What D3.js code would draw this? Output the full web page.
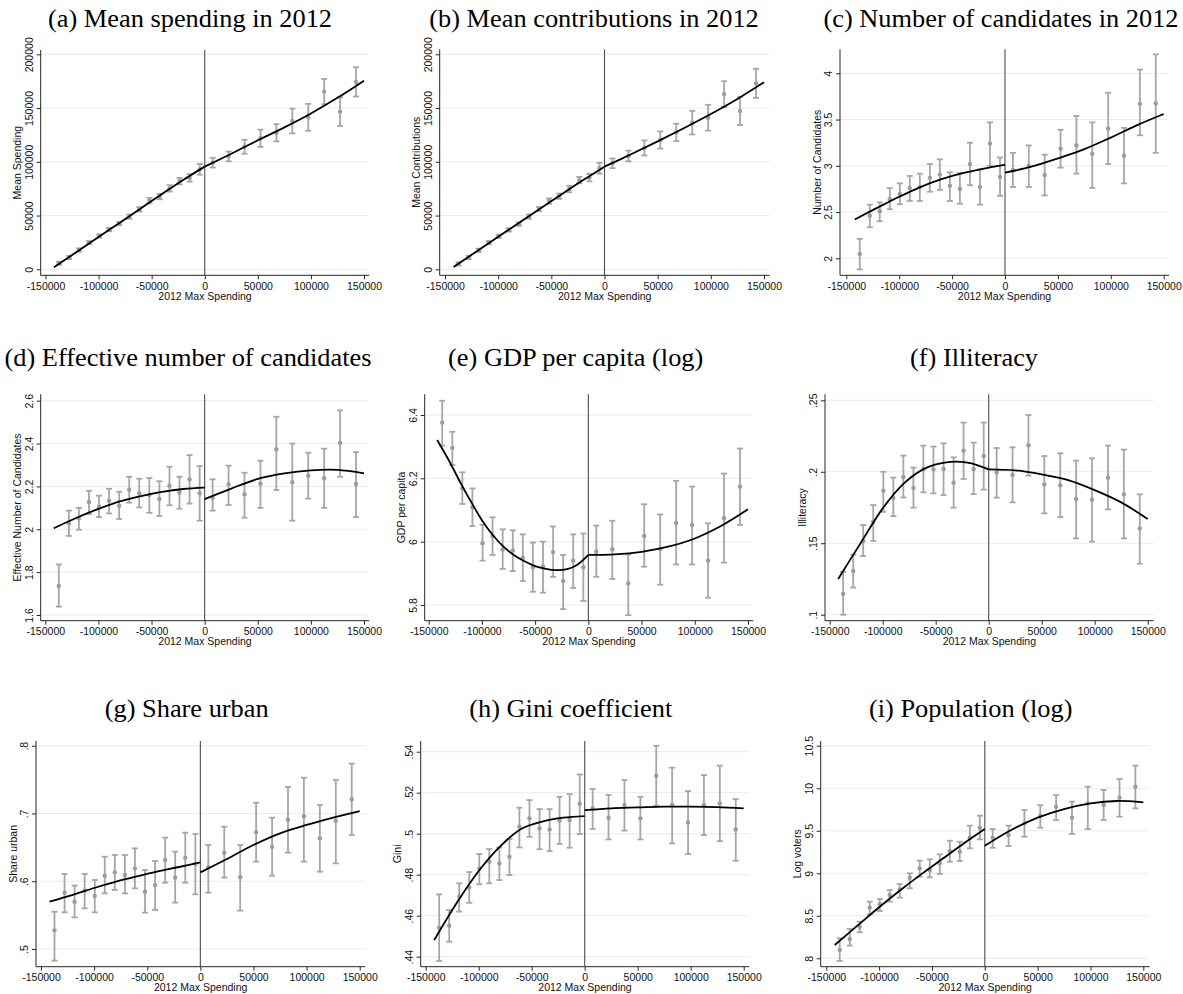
<!DOCTYPE html>
<html><head><meta charset="utf-8">
<script src="https://cdn.jsdelivr.net/npm/d3@7"></script>
<style>body{margin:0;background:#fff}svg{display:block}</style>
</head><body>
<svg id="chart" width="1183" height="994"></svg>
<script>
// ---------- DATA ----------
const binsLeft = [-137300,-127800,-118400,-108900,-99400,-90000,-80500,-71000,-61600,-52100,-42600,-33100,-23700,-14200,-4700];
const binsRight = [7500,22500,37500,52500,67500,82500,97500,112500,127500,142500];
const fitXL = [-142000,-120000,-100000,-80000,-60000,-40000,-20000,0];
const fitXL15 = [-142000,-130000,-120000,-110000,-100000,-90000,-80000,-70000,-60000,-50000,-40000,-30000,-20000,-10000,0];
const fitXR = [0,25000,50000,75000,100000,125000,150000];
const xTicks = [-150000,-100000,-50000,0,50000,100000,150000];
const xTickLabels = ["-150000","-100000","-50000","0","50000","100000","150000"];
const xTitle = "2012 Max Spending";

// (a) Mean spending
const aTicks = [0,50000,100000,150000,200000];
const aTickLabels = ["0","50000","100000","150000","200000"];
const aML = [5600,11000,18000,24800,31000,37000,42500,49000,55800,64000,67600,75300,82000,85000,93000];
const aLoL = [4100,9500,16500,23300,29500,35500,41000,47000,53800,61500,65100,72300,79000,81500,88000];
const aHiL = [7100,12500,19500,26300,32500,38500,44000,51000,57800,66500,70100,78300,85000,88500,98000];
const aMR = [99200,105000,114000,121900,127000,138000,141400,165300,146700,174300];
const aLoR = [94700,100500,107500,113900,119000,126500,128900,153500,133400,160700];
const aHiR = [103700,109500,120500,129900,135000,149500,153900,177100,160000,187900];
const aFitL = [2000,16600,30000,43400,56800,70200,83300,95500];
const aFitR = [95500,107500,120000,132000,145000,159500,175500];

// (b) Mean contributions
const bTicks = [0,50000,100000,150000,200000];
const bTickLabels = ["0","50000","100000","150000","200000"];
const bML = [5000,11000,17700,24800,30700,36600,42000,49000,56000,63500,68000,74700,83000,85300,94000];
const bLoL = [3500,9500,16200,23300,29200,35100,40500,47000,54000,61000,65500,71700,80000,81800,89000];
const bHiL = [6500,12500,19200,26300,32200,38100,43500,51000,58000,66000,70500,77700,86000,88800,99000];
const bMR = [98600,105400,112900,120300,127400,136400,141000,163000,147300,173000];
const bLoR = [94100,100400,105900,112300,119400,125400,129000,151000,134300,159500];
const bHiR = [103100,110400,119900,128300,135400,147400,153000,175000,160300,186500];
const bFitL = [2200,16800,30200,43500,56800,70000,83000,95500];
const bFitR = [95500,107000,119000,131500,144500,158500,174000];

// (c) Number of candidates
const cTicks = [2,2.5,3,3.5,4];
const cTickLabels = ["2","2.5","3","3.5","4"];
const cML = [2.047,2.46,2.51,2.64,2.695,2.76,2.77,2.87,2.905,2.785,2.75,3.02,2.77,3.24,2.88];
const cLoL = [1.88,2.335,2.40,2.53,2.585,2.62,2.62,2.72,2.74,2.62,2.59,2.79,2.58,3.0,2.675];
const cHiL = [2.21,2.58,2.605,2.76,2.81,2.89,2.915,3.02,3.07,2.93,2.92,3.25,2.96,3.47,3.09];
const cMR = [2.955,3.0,2.90,3.185,3.22,3.13,3.40,3.11,3.67,3.675];
const cLoR = [2.77,2.77,2.68,2.98,2.915,2.76,3.02,2.81,3.33,3.14];
const cHiR = [3.14,3.22,3.12,3.39,3.54,3.47,3.79,3.41,4.04,4.205];
const cFitL = [2.42,2.55,2.665,2.77,2.855,2.92,2.97,3.01];
const cFitR = [2.925,2.99,3.08,3.18,3.305,3.44,3.56];

// (d) Effective number of candidates
const dTicks = [1.6,1.8,2,2.2,2.4,2.6];
const dTickLabels = ["1.6","1.8","2","2.2","2.4","2.6"];
const dML = [1.735,2.028,2.051,2.127,2.105,2.133,2.11,2.185,2.168,2.16,2.141,2.203,2.171,2.233,2.168];
const dLoL = [1.639,1.969,1.998,2.071,2.057,2.074,2.048,2.124,2.102,2.077,2.062,2.112,2.096,2.12,2.04];
const dHiL = [1.836,2.087,2.10,2.18,2.157,2.189,2.175,2.245,2.236,2.239,2.224,2.292,2.245,2.346,2.295];
const dMR = [2.147,2.21,2.163,2.213,2.373,2.22,2.25,2.238,2.403,2.211];
const dLoR = [2.087,2.113,2.054,2.10,2.183,2.04,2.143,2.10,2.245,2.057];
const dHiR = [2.233,2.297,2.264,2.32,2.525,2.40,2.357,2.376,2.555,2.36];
const dFitL = [2.005,2.055,2.095,2.13,2.155,2.175,2.188,2.194];
const dFitR = [2.141,2.19,2.235,2.261,2.275,2.277,2.261];

// (e) GDP per capita (log)
const eTicks = [5.8,6,6.2,6.4];
const eTickLabels = ["5.8","6","6.2","6.4"];
const eML = [6.376,6.296,6.169,6.109,5.995,6.018,5.975,5.972,5.949,5.919,5.922,5.967,5.876,5.94,5.919];
const eLoL = [6.303,6.242,6.119,6.049,5.94,5.958,5.914,5.907,5.876,5.842,5.839,5.889,5.787,5.854,5.813];
const eHiL = [6.445,6.347,6.219,6.168,6.053,6.077,6.039,6.036,6.023,5.997,6.0,6.048,5.958,6.023,6.026];
const eMR = [5.968,5.976,5.868,6.018,5.977,6.059,6.053,5.94,6.074,6.174];
const eLoR = [5.889,5.882,5.768,5.921,5.864,5.928,5.928,5.823,5.934,6.053];
const eHiR = [6.051,6.066,5.96,6.118,6.086,6.192,6.174,6.058,6.215,6.294];
const eFitL = [6.321,6.25,6.185,6.125,6.068,6.022,5.985,5.958,5.938,5.923,5.914,5.91,5.913,5.928,5.958];
const eFitR = [5.958,5.96,5.968,5.984,6.01,6.05,6.102];

// (f) Illiteracy
const fTicks = [0.1,0.15,0.2,0.25];
const fTickLabels = [".1",".15",".2",".25"];
const fML = [.1147,.1306,.1516,.165,.1868,.1816,.1963,.1886,.2019,.2017,.2019,.1924,.2148,.2019,.211];
const fLoL = [.100,.119,.141,.1516,.172,.169,.182,.1749,.1856,.1849,.1837,.1749,.195,.1844,.1875];
const fHiL = [.130,.142,.1627,.1767,.200,.1959,.2113,.2029,.2183,.2176,.2199,.2101,.2344,.2204,.2344];
const fMR = [.1994,.1977,.2185,.1912,.1905,.1809,.1805,.1959,.1842,.1604];
const fLoR = [.1819,.1786,.1973,.1709,.1683,.1534,.1511,.1737,.1534,.1357];
const fHiR = [.2166,.2171,.2397,.2110,.2129,.2078,.2094,.2183,.2155,.1842];
const fFitL = [.125,.1511,.1744,.1919,.2024,.2066,.2064,.2017];
const fFitR = [.2017,.201,.1982,.1942,.1872,.1786,.1669];

// (g) Share urban
const gTicks = [0.5,0.6,0.7,0.8];
const gTickLabels = [".5",".6",".7",".8"];
const gML = [.5275,.5831,.5698,.5861,.5782,.6082,.6131,.6092,.619,.5846,.5944,.6313,.6053,.6348,.6254];
const gLoL = [.4828,.5541,.5467,.560,.5541,.5821,.5871,.5821,.5895,.5536,.5576,.5979,.5684,.5979,.5807];
const gHiL = [.555,.6107,.5935,.6107,.6018,.6362,.6387,.6387,.6485,.6166,.6299,.6643,.6436,.6717,.6697];
const gMR = [.6205,.6422,.6058,.6722,.651,.6908,.6958,.6633,.6894,.7209];
const gLoR = [.5831,.6053,.5566,.6289,.6082,.6422,.6289,.6141,.6264,.6682];
const gHiR = [.6535,.6805,.6535,.7159,.6938,.7391,.7528,.7125,.7494,.7735];
const gFitL = [.570,.580,.590,.599,.607,.6145,.621,.628];
const gFitR = [.6131,.6328,.6535,.6707,.683,.6938,.7036];

// (h) Gini coefficient
const hTicks = [0.44,0.46,0.48,0.5,0.52,0.54];
const hTickLabels = [".44",".46",".48",".5",".52",".54"];
const hML = [.4541,.4551,.4693,.4737,.4831,.4863,.4855,.4888,.5034,.5075,.5026,.5021,.5065,.5067,.5146];
const hLoL = [.4379,.4473,.4620,.4663,.4753,.4758,.4774,.4798,.4933,.4985,.4924,.4915,.495,.4932,.4998];
const hHiL = [.4704,.4628,.4758,.4813,.4901,.4925,.4933,.4974,.5127,.5164,.512,.512,.518,.5193,.5289];
const hMR = [.5124,.5078,.514,.5075,.5283,.514,.5055,.514,.5148,.5021];
const hLoR = [.5023,.4972,.5015,.4972,.5137,.4953,.4901,.4993,.4964,.4868];
const hHiR = [.5218,.5189,.5262,.518,.5429,.5322,.5208,.5286,.5332,.5169];
const hFitL = [.4481,.4668,.4818,.4937,.5023,.5059,.5078,.5086];
const hFitR = [.5115,.5124,.5128,.5132,.5132,.513,.5124];

// (i) Population (log)
const iTicks = [8,8.5,9,9.5,10,10.5];
const iTickLabels = ["8","8.5","9","9.5","10","10.5"];
const iML = [8.098,8.227,8.372,8.596,8.635,8.745,8.811,8.948,9.058,9.038,9.117,9.262,9.254,9.418,9.536];
const iLoL = [7.969,8.149,8.306,8.517,8.556,8.666,8.713,8.823,8.96,8.952,8.991,9.136,9.144,9.293,9.399];
const iHiL = [8.235,8.345,8.431,8.666,8.697,8.803,8.874,8.999,9.148,9.164,9.223,9.383,9.371,9.56,9.677];
const iMR = [9.418,9.45,9.587,9.677,9.783,9.654,9.822,9.803,9.889,10.018];
const iLoR = [9.30,9.32,9.43,9.536,9.626,9.462,9.52,9.626,9.665,9.763];
const iHiR = [9.52,9.56,9.744,9.80,9.92,9.842,10.018,9.979,10.108,10.265];
const iFitL = [8.157,8.39,8.6,8.8,8.99,9.17,9.35,9.52];
const iFitR = [9.324,9.509,9.654,9.755,9.822,9.85,9.834];

const panels = [
  {k:"a", title:"(a) Mean spending in 2012", yTitle:"Mean Spending", ticks:aTicks, labels:aTickLabels, mL:aML, loL:aLoL, hiL:aHiL, mR:aMR, loR:aLoR, hiR:aHiR, fxL:fitXL, fL:aFitL, fR:aFitR},
  {k:"b", title:"(b) Mean contributions in 2012", yTitle:"Mean Contributions", ticks:bTicks, labels:bTickLabels, mL:bML, loL:bLoL, hiL:bHiL, mR:bMR, loR:bLoR, hiR:bHiR, fxL:fitXL, fL:bFitL, fR:bFitR},
  {k:"c", title:"(c) Number of candidates in 2012", yTitle:"Number of Candidates", ticks:cTicks, labels:cTickLabels, mL:cML, loL:cLoL, hiL:cHiL, mR:cMR, loR:cLoR, hiR:cHiR, fxL:fitXL, fL:cFitL, fR:cFitR},
  {k:"d", title:"(d) Effective number of candidates", yTitle:"Effective Number of Candidates", ticks:dTicks, labels:dTickLabels, mL:dML, loL:dLoL, hiL:dHiL, mR:dMR, loR:dLoR, hiR:dHiR, fxL:fitXL, fL:dFitL, fR:dFitR},
  {k:"e", title:"(e) GDP per capita (log)", yTitle:"GDP per capita", ticks:eTicks, labels:eTickLabels, mL:eML, loL:eLoL, hiL:eHiL, mR:eMR, loR:eLoR, hiR:eHiR, fxL:fitXL15, fL:eFitL, fR:eFitR},
  {k:"f", title:"(f) Illiteracy", yTitle:"Illiteracy", ticks:fTicks, labels:fTickLabels, mL:fML, loL:fLoL, hiL:fHiL, mR:fMR, loR:fLoR, hiR:fHiR, fxL:fitXL, fL:fFitL, fR:fFitR},
  {k:"g", title:"(g) Share urban", yTitle:"Share urban", ticks:gTicks, labels:gTickLabels, mL:gML, loL:gLoL, hiL:gHiL, mR:gMR, loR:gLoR, hiR:gHiR, fxL:fitXL, fL:gFitL, fR:gFitR},
  {k:"h", title:"(h) Gini coefficient", yTitle:"Gini", ticks:hTicks, labels:hTickLabels, mL:hML, loL:hLoL, hiL:hHiL, mR:hMR, loR:hLoR, hiR:hHiR, fxL:fitXL, fL:hFitL, fR:hFitR},
  {k:"i", title:"(i) Population (log)", yTitle:"Log voters", ticks:iTicks, labels:iTickLabels, mL:iML, loL:iLoL, hiL:iHiL, mR:iMR, loR:iLoR, hiR:iHiR, fxL:fitXL, fL:iFitL, fR:iFitR}
];

// ---------- LAYOUT (pixels) ----------
const layout = {
  a:{ax:40.7, x0:45.5, x1:364.0, right:369.3, top:50,    bottom:275.3, yb:269.3, yt:54.3,  tx:190,   ty:27},
  b:{ax:439.7,x0:445.0,x1:764.0, right:769.7, top:49.3,  bottom:275.3, yb:269.3, yt:54.3,  tx:594,   ty:27},
  c:{ax:840.0,x0:846.3,x1:1163.7,right:1169.0,top:49.3,  bottom:275.3, yb:258.3, yt:73.3,  tx:1001,  ty:27},
  d:{ax:40.7, x0:45.3, x1:364.0, right:369.3, top:394.3, bottom:620.7, yb:615.0, yt:400.7, tx:188,   ty:366},
  e:{ax:424.7,x0:428.7,x1:748.0, right:753.3, top:394.3, bottom:620.7, yb:605.0, yt:415.0, tx:575.7, ty:366},
  f:{ax:825.0,x0:829.7,x1:1147.7,right:1153.7,top:394.3, bottom:620.7, yb:614.7, yt:400.3, tx:974,   ty:366},
  g:{ax:36.0, x0:41.0, x1:359.7, right:365.3, top:741,   bottom:966.7, yb:949.0, yt:745.7, tx:186.7, ty:717},
  h:{ax:420.7,x0:425.7,x1:743.7, right:749.3, top:741,   bottom:966.7, yb:956.7, yt:751.7, tx:570.7, ty:717},
  i:{ax:820.7,x0:826.3,x1:1143.3,right:1149.7,top:741,   bottom:966.7, yb:958.3, yt:745.7, tx:970.7, ty:717}
};

const style = {
  grid:"#e4edef", axis:"#262626", zero:"#4d4d4d", pt:"#9c9c9c", bar:"#a6a6a6", fit:"#000",
  sans:"'Liberation Sans', Arial, sans-serif", serif:"'Liberation Serif', 'Times New Roman', serif",
  tickFont:10.5, titleFont:25
};

const svg = d3.select("#chart");

panels.forEach(p => {
  const L = layout[p.k];
  const g = svg.append("g");
  const x = d3.scaleLinear().domain([xTicks[0], xTicks[xTicks.length-1]]).range([L.x0, L.x1]);
  const y = d3.scaleLinear().domain([p.ticks[0], p.ticks[p.ticks.length-1]]).range([L.yb, L.yt]);

  g.append("text").attr("transform", `translate(${L.tx},${L.ty}) scale(1.055,1)`)
    .attr("text-anchor","middle").attr("font-family", style.serif)
    .attr("font-size", style.titleFont).attr("fill","#000").text(p.title);

  g.selectAll("line.grid").data(p.ticks).join("line").attr("class","grid")
    .attr("x1", L.ax).attr("x2", L.right).attr("y1", d=>y(d)).attr("y2", d=>y(d))
    .attr("stroke", style.grid).attr("stroke-width", 1);

  const xa = g.append("g").attr("transform", `translate(0,${L.bottom})`)
    .call(d3.axisBottom(x).tickValues(xTicks).tickFormat((d,i)=>xTickLabels[i]).tickSize(4).tickSizeOuter(0));
  xa.select(".domain").remove();
  xa.selectAll("line").attr("stroke", style.axis);
  xa.selectAll("text").attr("font-family", style.sans).attr("font-size", style.tickFont).attr("fill","#111");
  g.append("line").attr("x1", L.ax).attr("x2", L.right).attr("y1", L.bottom).attr("y2", L.bottom)
    .attr("stroke", style.axis).attr("stroke-width", 1);
  g.append("text").attr("x", (L.ax + L.right)/2).attr("y", L.bottom + 24.5)
    .attr("text-anchor","middle").attr("font-family", style.sans).attr("font-size", style.tickFont)
    .attr("fill","#111").text(xTitle);

  const ya = g.append("g").attr("transform", `translate(${L.ax},0)`)
    .call(d3.axisLeft(y).tickValues(p.ticks).tickFormat((d,i)=>p.labels[i]).tickSize(4).tickSizeOuter(0));
  ya.select(".domain").remove();
  ya.selectAll("line").attr("stroke", style.axis);
  ya.selectAll("text").attr("x", null).attr("dy", null)
    .attr("transform", "translate(-8,0) rotate(-90)").attr("text-anchor","middle")
    .attr("font-family", style.sans).attr("font-size", style.tickFont).attr("fill","#111");
  g.append("line").attr("x1", L.ax).attr("x2", L.ax).attr("y1", L.top).attr("y2", L.bottom)
    .attr("stroke", style.axis).attr("stroke-width", 1);
  g.append("text").attr("transform", `translate(${L.ax-19.5},${(L.top+L.bottom)/2}) rotate(-90)`)
    .attr("text-anchor","middle").attr("font-family", style.sans).attr("font-size", style.tickFont)
    .attr("fill","#111").text(p.yTitle);

  g.append("line").attr("x1", x(0)).attr("x2", x(0)).attr("y1", L.top).attr("y2", L.bottom)
    .attr("stroke", style.zero).attr("stroke-width", 1.1);

  const pts = binsLeft.map((b,i)=>({x:b, m:p.mL[i], lo:p.loL[i], hi:p.hiL[i]}))
    .concat(binsRight.map((b,i)=>({x:b, m:p.mR[i], lo:p.loR[i], hi:p.hiR[i]})));
  const eb = g.append("g").attr("stroke", style.bar).attr("stroke-width", 1.8).attr("fill","none");
  pts.forEach(d => {
    const cx = x(d.x);
    eb.append("line").attr("x1",cx).attr("x2",cx).attr("y1",y(d.lo)).attr("y2",y(d.hi));
    eb.append("line").attr("x1",cx-3).attr("x2",cx+3).attr("y1",y(d.lo)).attr("y2",y(d.lo));
    eb.append("line").attr("x1",cx-3).attr("x2",cx+3).attr("y1",y(d.hi)).attr("y2",y(d.hi));
  });
  g.selectAll("circle.pt").data(pts).join("circle").attr("class","pt")
    .attr("cx", d=>x(d.x)).attr("cy", d=>y(d.m)).attr("r", 2.2).attr("fill", style.pt);

  const line = d3.line().x(d=>x(d[0])).y(d=>y(d[1])).curve(d3.curveCatmullRom.alpha(0.5));
  g.append("path").attr("d", line(p.fxL.map((v,i)=>[v, p.fL[i]])))
    .attr("fill","none").attr("stroke", style.fit).attr("stroke-width", 1.8);
  g.append("path").attr("d", line(fitXR.map((v,i)=>[v, p.fR[i]])))
    .attr("fill","none").attr("stroke", style.fit).attr("stroke-width", 1.8);
});
</script>
</body></html>
